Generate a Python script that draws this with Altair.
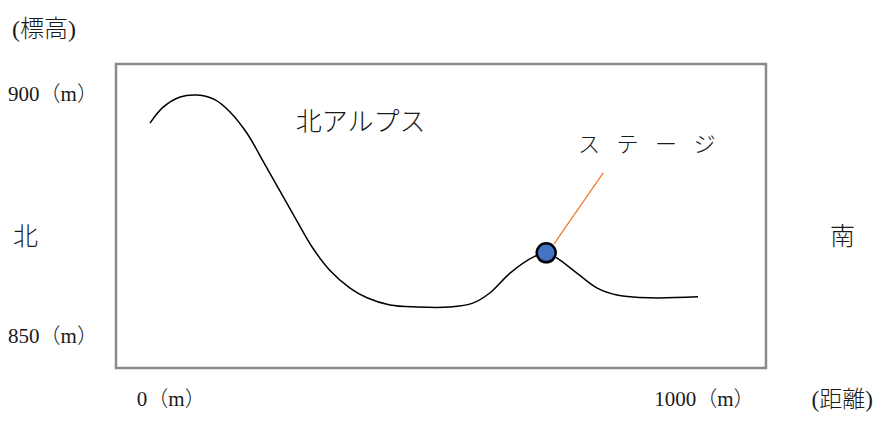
import altair as alt
import pandas as pd

# --- profile of the terrain (distance in m, elevation in m) ---
dist = [0, 24, 55, 86, 119, 146, 177, 206, 237, 268, 297, 328, 365, 396, 438,
        487, 547, 589, 620, 657, 699, 723, 743, 779, 816, 852, 912, 1000]
elev = [894.2, 897.5, 899.6, 900.0, 899.0, 896.5, 892.1, 886.4, 880.2, 874.0,
        868.4, 863.8, 860.1, 858.1, 856.6, 856.2, 856.2, 857.0, 859.1, 863.2,
        866.5, 867.4, 866.3, 863.2, 860.1, 858.7, 858.1, 858.3]

# stage point
stage_x = [723]
stage_y = [867.4]

# leader line from the stage to its label
leader_x = [737]
leader_y = [869.2]
leader_x2 = [827]
leader_y2 = [883.9]

# frame of the figure
frame_x = [-62]
frame_x2 = [1124]
frame_y = [906.4]
frame_y2 = [843.6]

SP = "\u2002\u2005"  # letter spacing of the stage label

# text labels (left aligned)
label_text = ["(標高)", "900（m）", "850（m）", "0（m）", "1000（m）",
              "北", "南", "北アルプス", "ス" + SP + "テ" + SP + "ー" + SP + "ジ"]
label_x = [-252, -259, -259, -24, 920, -250, 1241, 266, 781]
label_y = [913.4, 900.0, 850.0, 837.0, 837.0, 870.7, 870.7, 894.2, 889.7]
label_size = [24, 21, 21, 21, 21, 25, 25, 26, 22]

# right-aligned axis title at the lower right
dist_title = ["(距離)"]
dist_title_x = [1319]
dist_title_y = [837.0]

xs = alt.Scale(domain=[-259.1, 1319.3], nice=False, zero=False)
ys = alt.Scale(domain=[834.3, 917.98], nice=False, zero=False)

curve_df = pd.DataFrame({"d": dist, "e": elev})
frame_df = pd.DataFrame({"x": frame_x, "x2": frame_x2, "y": frame_y, "y2": frame_y2})
leader_df = pd.DataFrame({"x": leader_x, "x2": leader_x2, "y": leader_y, "y2": leader_y2})
stage_df = pd.DataFrame({"x": stage_x, "y": stage_y})
label_df = pd.DataFrame({"t": label_text, "x": label_x, "y": label_y, "s": label_size})
title_df = pd.DataFrame({"t": dist_title, "x": dist_title_x, "y": dist_title_y})

FONT = "Liberation Serif, Noto Sans CJK JP"

frame = alt.Chart(frame_df).mark_rect(fill="white", stroke="#8a8a8a", strokeWidth=2.5).encode(
    x=alt.X("x:Q", scale=xs, axis=None),
    x2="x2:Q",
    y=alt.Y("y:Q", scale=ys, axis=None),
    y2="y2:Q",
)

curve = alt.Chart(curve_df).mark_line(color="black", strokeWidth=1.5, interpolate="catmull-rom").encode(
    x=alt.X("d:Q", scale=xs, axis=None),
    y=alt.Y("e:Q", scale=ys, axis=None),
)

leader = alt.Chart(leader_df).mark_rule(color="#ED7D31", strokeWidth=1.3).encode(
    x=alt.X("x:Q", scale=xs, axis=None),
    x2="x2:Q",
    y=alt.Y("y:Q", scale=ys, axis=None),
    y2="y2:Q",
)

stage = alt.Chart(stage_df).mark_point(
    shape="circle", filled=True, fill="#4472C4", stroke="black", strokeWidth=2.5,
    size=360, opacity=1,
).encode(
    x=alt.X("x:Q", scale=xs, axis=None),
    y=alt.Y("y:Q", scale=ys, axis=None),
)

labels = alt.Chart(label_df).mark_text(
    align="left", baseline="middle", color="#1a1a1a", font=FONT, fontWeight=300,
).encode(
    x=alt.X("x:Q", scale=xs, axis=None),
    y=alt.Y("y:Q", scale=ys, axis=None),
    text="t:N",
    size=alt.Size("s:Q", scale=None, legend=None),
)

dist_label = alt.Chart(title_df).mark_text(
    align="right", baseline="middle", color="#1a1a1a", font=FONT, fontSize=23,
    fontWeight=300,
).encode(
    x=alt.X("x:Q", scale=xs, axis=None),
    y=alt.Y("y:Q", scale=ys, axis=None),
    text="t:N",
)

chart = alt.layer(frame, curve, leader, stage, labels, dist_label).properties(
    width=865, height=405, padding=0, background="white",
    autosize=alt.AutoSizeParams(type="none"),
).configure_view(stroke=None)

chart.save("out.html", embed_options={"renderer": "svg", "actions": False})
